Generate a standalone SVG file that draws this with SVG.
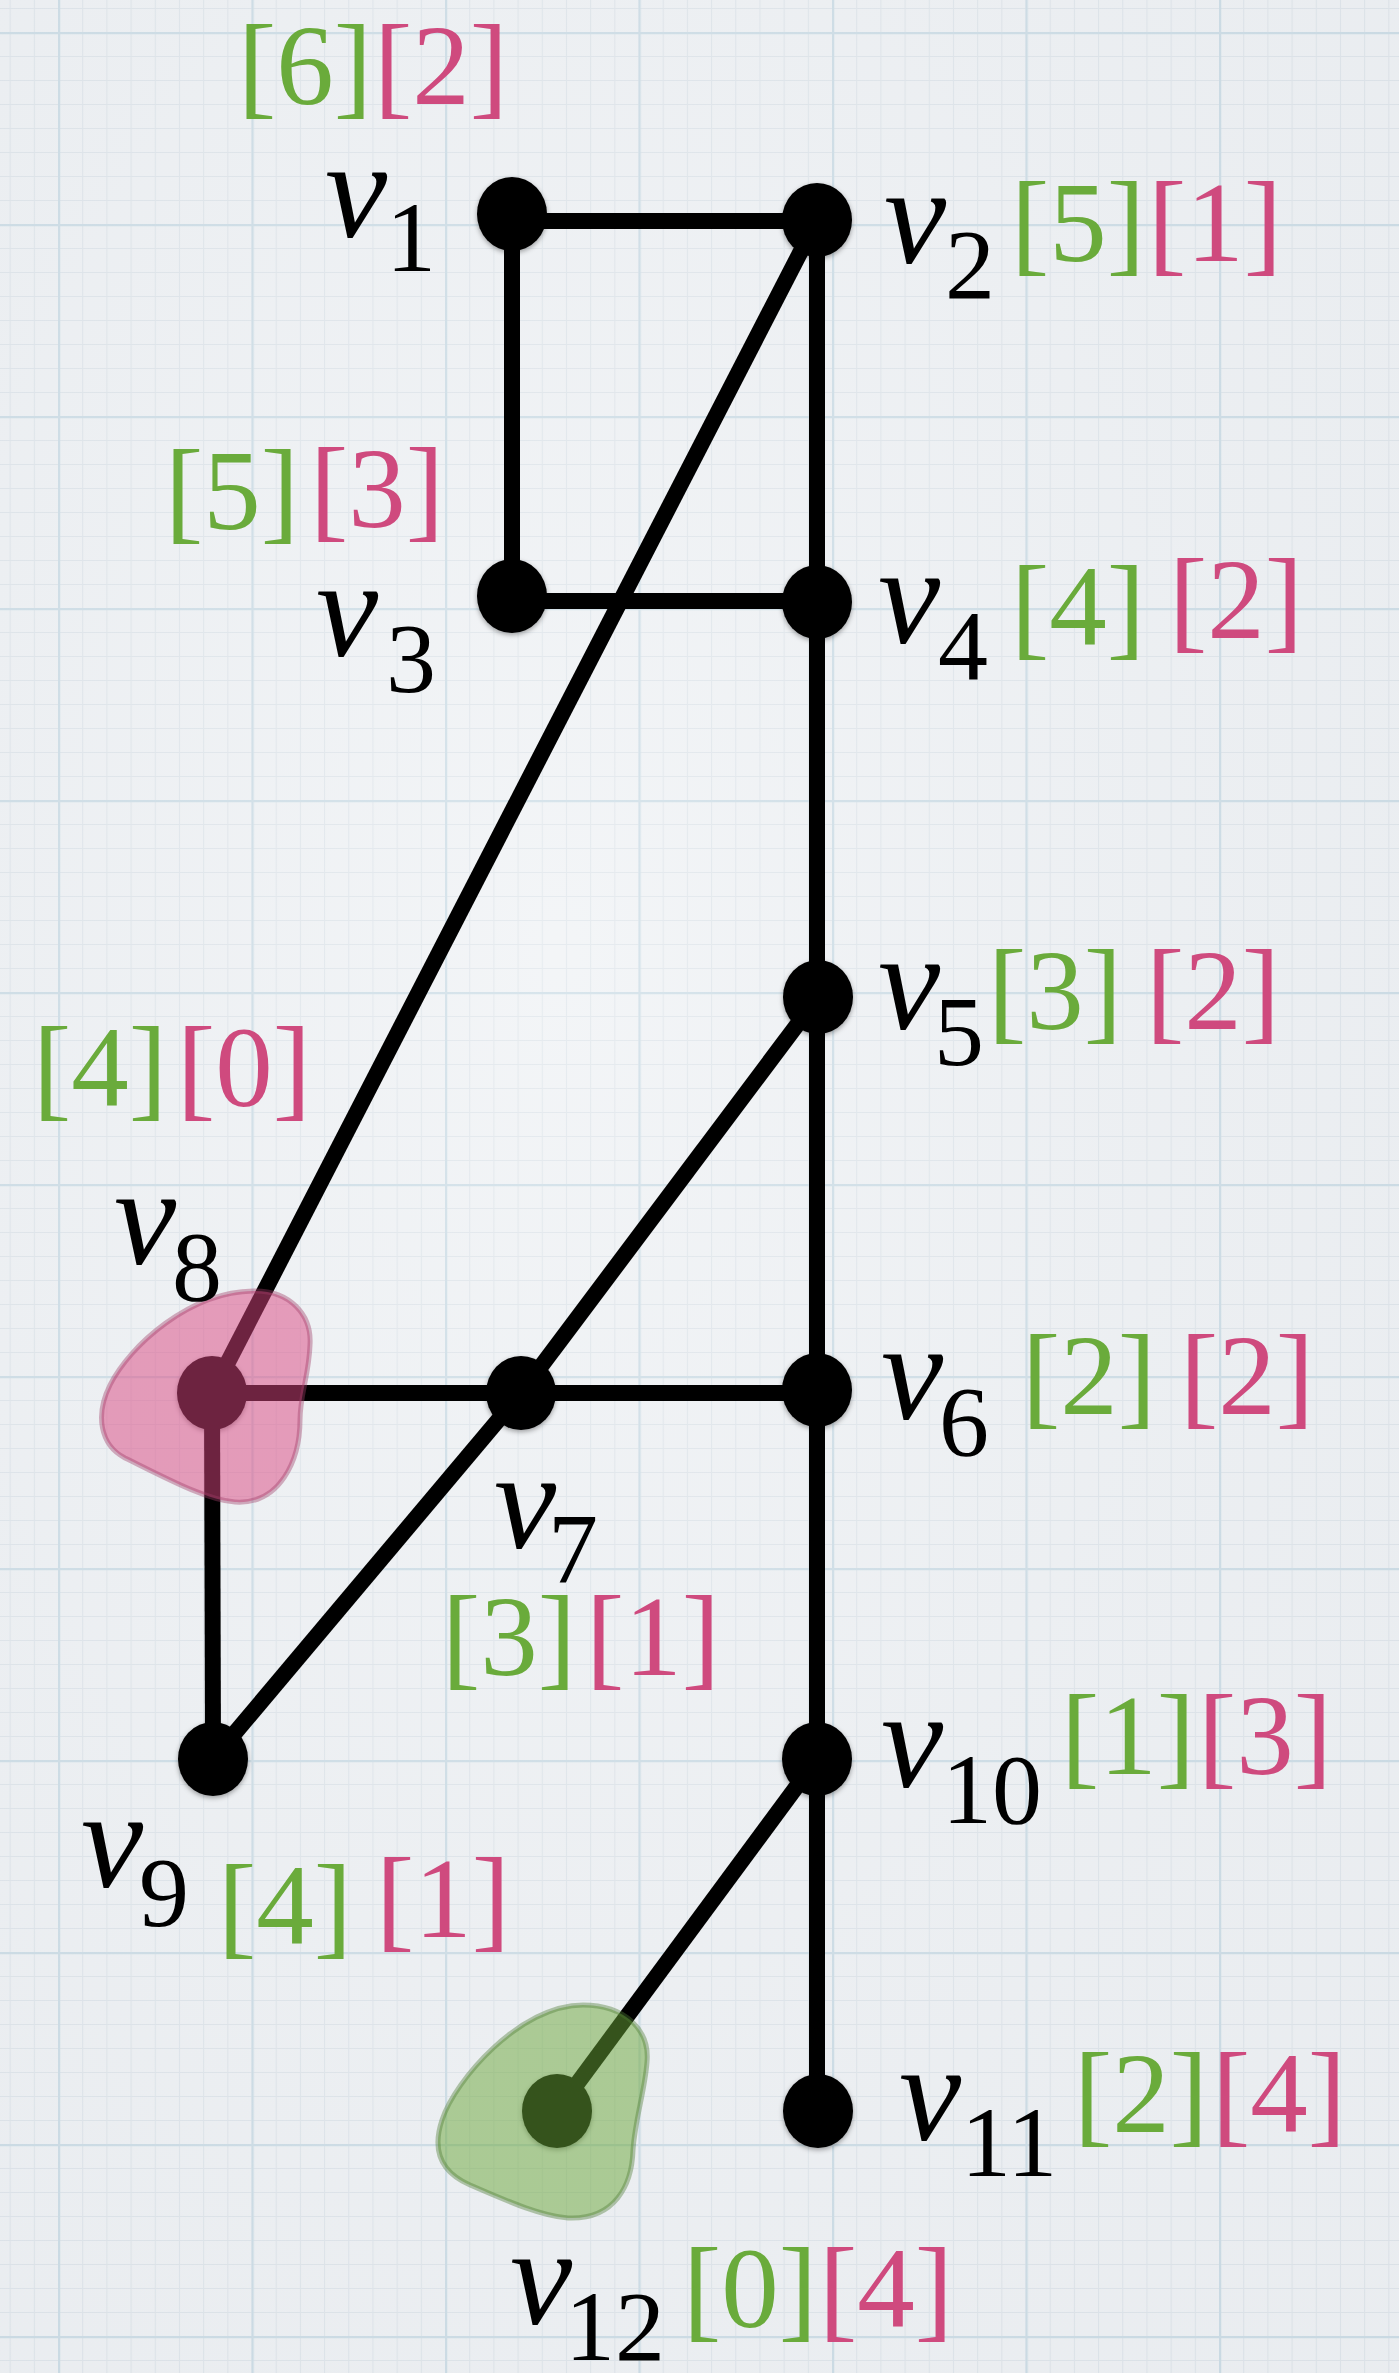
<svg xmlns="http://www.w3.org/2000/svg" width="1399" height="2373" viewBox="0 0 1399 2373">
  <defs>
    <pattern id="minor" patternUnits="userSpaceOnUse" x="58" y="32" width="24.1875" height="24">
      <path d="M0.5 0 V24 M0 0.5 H24.1875" stroke="#dce3e9" stroke-width="1.2" fill="none"/>
    </pattern>
    <pattern id="major" patternUnits="userSpaceOnUse" x="58" y="32" width="193.5" height="192">
      <path d="M1 0 V192 M0 1 H193.5" stroke="#c8dae4" stroke-width="2.5" fill="none"/>
    </pattern>
    <radialGradient id="vig" cx="0.4" cy="0.4" r="0.8">
      <stop offset="0" stop-color="#ffffff" stop-opacity="0.3"/>
      <stop offset="1" stop-color="#d0d4da" stop-opacity="0.15"/>
    </radialGradient>
    <filter id="sh" x="-30%" y="-30%" width="160%" height="160%">
      <feDropShadow dx="0" dy="2" stdDeviation="2.5" flood-color="#000" flood-opacity="0.35"/>
    </filter>
  </defs>
  <style>
    .edge { stroke: #000; stroke-width: 16; fill: none; }
    .node { fill: #000; filter: url(#sh); }
    .v { font-family: "Liberation Serif", "Times New Roman", serif; font-style: italic; font-size: 140px; fill: #000; }
    .sub { font-family: "Liberation Serif", "Times New Roman", serif; font-size: 100px; fill: #000; }
    .g { font-family: "Liberation Serif", "Times New Roman", serif; font-size: 115px; fill: #6aab3b; }
    .p { font-family: "Liberation Serif", "Times New Roman", serif; font-size: 115px; fill: #cf4a7e; }
  </style>

  <rect width="1399" height="2373" fill="#eef1f4"/>
  <rect width="1399" height="2373" fill="url(#minor)"/>
  <rect width="1399" height="2373" fill="url(#major)"/>
  <rect width="1399" height="2373" fill="url(#vig)"/>

  <g id="connectors">
    <line class="edge" x1="512" y1="221" x2="817" y2="221"/>
    <line class="edge" x1="512" y1="214" x2="512" y2="596"/>
    <line class="edge" x1="512" y1="601" x2="817" y2="601"/>
    <line class="edge" x1="817" y1="220" x2="817" y2="2111"/>
    <line class="edge" x1="817" y1="220" x2="212" y2="1393"/>
    <line class="edge" x1="818" y1="997" x2="521" y2="1393"/>
    <line class="edge" x1="521" y1="1393" x2="213" y2="1759"/>
    <line class="edge" x1="212" y1="1393" x2="817" y2="1393"/>
    <line class="edge" x1="212" y1="1393" x2="213" y2="1759"/>
    <line class="edge" x1="817" y1="1759" x2="557" y2="2111"/>
  </g>

  <g id="v1"><ellipse class="node" cx="512" cy="214" rx="35" ry="37"/></g>
  <g id="v2"><ellipse class="node" cx="817" cy="220" rx="35" ry="37"/></g>
  <g id="v3"><ellipse class="node" cx="512" cy="596" rx="35" ry="37"/></g>
  <g id="v4"><ellipse class="node" cx="817" cy="602" rx="35" ry="37"/></g>
  <g id="v5"><ellipse class="node" cx="818" cy="997" rx="35" ry="37"/></g>
  <g id="v6"><ellipse class="node" cx="817" cy="1390" rx="35" ry="37"/></g>
  <g id="v7"><ellipse class="node" cx="521" cy="1393" rx="35" ry="37"/></g>
  <g id="v8"><ellipse class="node" cx="212" cy="1393" rx="35" ry="37"/>
    <path d="M253,1291 C290,1290 312,1315 310,1345 C309,1375 300,1395 300,1420 C300,1460 280,1505 235,1502 C205,1500 160,1475 125,1458 C100,1445 95,1415 110,1385 C130,1345 190,1292 253,1291 Z" fill="#d9457f" fill-opacity="0.5" stroke="#9e3d66" stroke-opacity="0.4" stroke-width="5"/>
  </g>
  <g id="v9"><ellipse class="node" cx="213" cy="1759" rx="35" ry="37"/></g>
  <g id="v10"><ellipse class="node" cx="817" cy="1759" rx="35" ry="37"/></g>
  <g id="v11"><ellipse class="node" cx="818" cy="2111" rx="35" ry="37"/></g>
  <g id="v12"><ellipse class="node" cx="557" cy="2111" rx="35" ry="37"/>
    <path d="M583,2005 C625,2005 650,2030 647,2062 C645,2090 635,2120 633,2150 C632,2185 615,2220 568,2218 C540,2216 505,2200 470,2185 C440,2172 432,2150 442,2120 C455,2080 520,2005 583,2005 Z" fill="#6aa638" fill-opacity="0.5" stroke="#4e7a34" stroke-opacity="0.4" stroke-width="5"/>
  </g>

  <g id="labels">
    <text class="v" x="325" y="237">v</text><text class="sub" x="386" y="271">1</text>
    <text class="g" x="238" y="104">[6]</text><text class="p" x="374" y="104">[2]</text>

    <text class="v" x="884" y="263">v</text><text class="sub" x="945" y="298">2</text>
    <text class="g" x="1011" y="261">[5]</text><text class="p" x="1148" y="261">[1]</text>

    <text class="v" x="316" y="656">v</text><text class="sub" x="386" y="692">3</text>
    <text class="g" x="165" y="529">[5]</text><text class="p" x="310" y="527">[3]</text>

    <text class="v" x="878" y="643">v</text><text class="sub" x="938" y="679">4</text>
    <text class="g" x="1011" y="645">[4]</text><text class="p" x="1169" y="638">[2]</text>

    <text class="v" x="878" y="1029">v</text><text class="sub" x="934" y="1065">5</text>
    <text class="g" x="988" y="1029">[3]</text><text class="p" x="1146" y="1029">[2]</text>

    <text class="v" x="881" y="1419">v</text><text class="sub" x="939" y="1455">6</text>
    <text class="g" x="1022" y="1414">[2]</text><text class="p" x="1180" y="1414">[2]</text>

    <text class="v" x="494" y="1548">v</text><text class="sub" x="548" y="1582">7</text>
    <text class="g" x="442" y="1675">[3]</text><text class="p" x="586" y="1675">[1]</text>

    <text class="v" x="114" y="1264">v</text><text class="sub" x="172" y="1300">8</text>
    <text class="g" x="33" y="1106">[4]</text><text class="p" x="177" y="1106">[0]</text>

    <text class="v" x="81" y="1887">v</text><text class="sub" x="139" y="1926">9</text>
    <text class="g" x="218" y="1944">[4]</text><text class="p" x="376" y="1937">[1]</text>

    <text class="v" x="881" y="1787">v</text><text class="sub" x="942" y="1823">10</text>
    <text class="g" x="1061" y="1774">[1]</text><text class="p" x="1198" y="1774">[3]</text>

    <text class="v" x="899" y="2140">v</text><text class="sub" x="961" y="2176">11</text>
    <text class="g" x="1074" y="2132">[2]</text><text class="p" x="1212" y="2132">[4]</text>

    <text class="v" x="510" y="2324">v</text><text class="sub" x="565" y="2360">12</text>
    <text class="g" x="683" y="2327">[0]</text><text class="p" x="819" y="2327">[4]</text>
  </g>
</svg>
